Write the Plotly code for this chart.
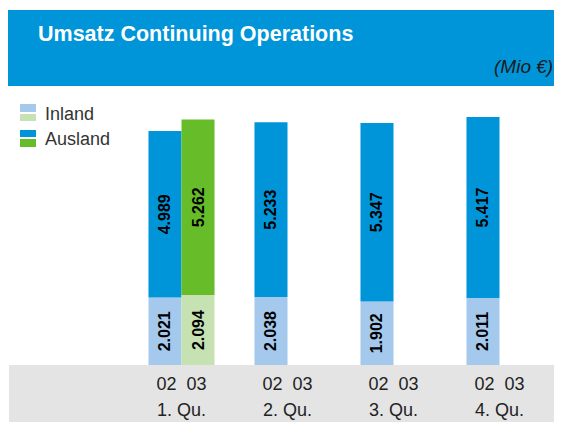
import plotly.graph_objects as go

quarters = ["1. Qu.", "2. Qu.", "3. Qu.", "4. Qu."]
year_labels = ["02", "03"]
inland_02 = [2021, 2038, 1902, 2011]
ausland_02 = [4989, 5233, 5347, 5417]
inland_03 = [2094, None, None, None]
ausland_03 = [5262, None, None, None]

OFF = 8  # page body margin
W, H = 562 - OFF, 422 - OFF
BLUE = "#0095D9"
LBLUE = "#A4C9EC"
GREEN = "#66BC29"
LGREEN = "#C6E2B3"
GREY = "#E4E4E4"

def px_x(v):
    return (v - OFF) / W

def px_y(v):
    return 1 - (v - OFF) / H

common = dict(
    textangle=-90,
    textposition="inside",
    insidetextanchor="middle",
    texttemplate="%{y:,.0f}",
    textfont=dict(family="Liberation Sans", size=16, color="black", weight="bold"),
    showlegend=False,
    hoverinfo="skip",
    marker_line_width=0,
)

fig = go.Figure()
fig.add_trace(go.Bar(x=quarters, y=inland_02, offsetgroup="02", marker_color=LBLUE, **common))
fig.add_trace(go.Bar(x=quarters, y=ausland_02, base=inland_02, offsetgroup="02", marker_color=BLUE, **common))
fig.add_trace(go.Bar(x=quarters, y=inland_03, offsetgroup="03", marker_color=LGREEN, **common))
fig.add_trace(go.Bar(x=quarters, y=ausland_03, base=inland_03, offsetgroup="03", marker_color=GREEN, **common))

ticktext = [f"{year_labels[0]}&nbsp;&nbsp;{year_labels[1]}" for _ in quarters]

shapes = [
    dict(type="rect", xref="paper", yref="paper", x0=px_x(8), x1=1.01, y0=px_y(86), y1=px_y(10),
         fillcolor=BLUE, line_width=0, layer="below"),
    dict(type="rect", xref="paper", yref="paper", x0=px_x(9), x1=1.01, y0=-0.01, y1=px_y(365),
         fillcolor=GREY, line_width=0, layer="below"),
    dict(type="rect", xref="paper", yref="paper", x0=px_x(20), x1=px_x(36), y0=px_y(112), y1=px_y(104),
         fillcolor=LBLUE, line_width=0),
    dict(type="rect", xref="paper", yref="paper", x0=px_x(20), x1=px_x(36), y0=px_y(121), y1=px_y(114),
         fillcolor=LGREEN, line_width=0),
    dict(type="rect", xref="paper", yref="paper", x0=px_x(20), x1=px_x(36), y0=px_y(137), y1=px_y(130),
         fillcolor=BLUE, line_width=0),
    dict(type="rect", xref="paper", yref="paper", x0=px_x(20), x1=px_x(36), y0=px_y(147), y1=px_y(139),
         fillcolor=GREEN, line_width=0),
]

annotations = [
    dict(text="<b>Umsatz Continuing Operations</b>", xref="paper", yref="paper",
         x=px_x(36), y=px_y(34), xanchor="left", yanchor="middle", showarrow=False,
         font=dict(family="Liberation Sans", size=21.5, color="white")),
    dict(text="<i>(Mio €)</i>", xref="paper", yref="paper",
         x=px_x(555), y=px_y(67), xanchor="right", yanchor="middle", showarrow=False,
         font=dict(family="Liberation Sans", size=19, color="#1a1a1a")),
    dict(text="Inland", xref="paper", yref="paper", x=px_x(43), y=px_y(114),
         xanchor="left", yanchor="middle", showarrow=False,
         font=dict(family="Liberation Sans", size=18, color="#333333")),
    dict(text="Ausland", xref="paper", yref="paper", x=px_x(43), y=px_y(139),
         xanchor="left", yanchor="middle", showarrow=False,
         font=dict(family="Liberation Sans", size=18, color="#333333")),
]
for q in quarters:
    annotations.append(dict(text=q, xref="x", yref="paper", x=q, y=px_y(410),
                            xanchor="center", yanchor="middle", showarrow=False,
                            font=dict(family="Liberation Sans", size=18, color="#222222")))

fig.update_layout(
    width=W, height=H,
    margin=dict(l=0, r=0, t=0, b=0),
    paper_bgcolor="white", plot_bgcolor="rgba(0,0,0,0)",
    barmode="group", bargap=0.377, bargroupgap=0,
    separators=",.",
    shapes=shapes, annotations=annotations,
    xaxis=dict(domain=[px_x(128.5), px_x(552.5)], range=[-0.5, 3.5], type="category",
               categoryorder="array", categoryarray=quarters,
               tickmode="array", tickvals=quarters, ticktext=ticktext,
               ticks="", showline=False, showgrid=False, zeroline=False,
               tickfont=dict(family="Liberation Sans", size=18, color="#222222"),
               ticklabelstandoff=6),
    yaxis=dict(domain=[px_y(365), px_y(100)], range=[0, 7940], visible=False,
               showgrid=False, zeroline=False),
    uniformtext=dict(minsize=14, mode="show"),
)

fig.write_html("out.html")
